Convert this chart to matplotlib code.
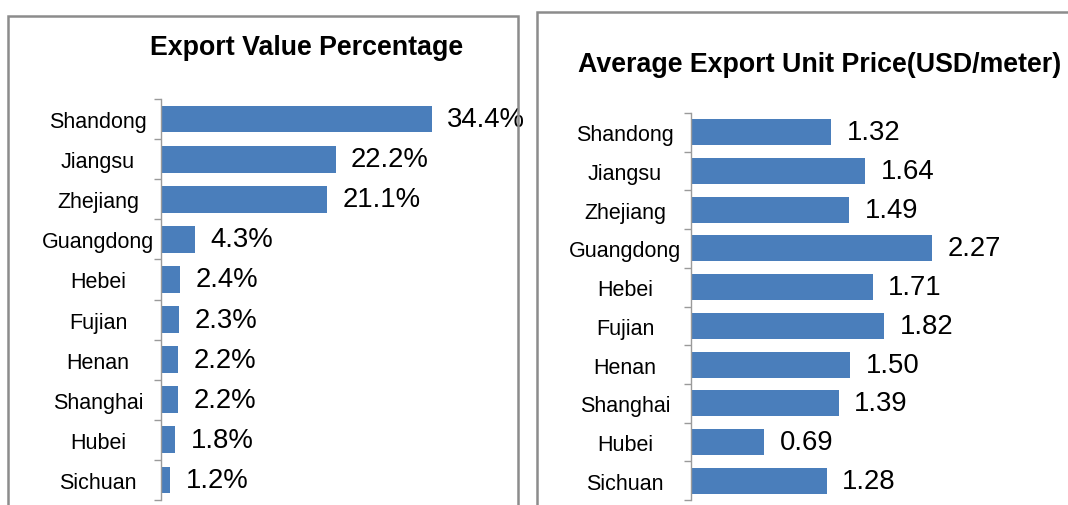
import matplotlib.pyplot as plt
from matplotlib.patches import Rectangle

provinces = ['Shandong', 'Jiangsu', 'Zhejiang', 'Guangdong', 'Hebei',
             'Fujian', 'Henan', 'Shanghai', 'Hubei', 'Sichuan']
value_share = [34.4, 22.2, 21.1, 4.3, 2.4, 2.3, 2.2, 2.2, 1.8, 1.2]
unit_price = [1.32, 1.64, 1.49, 2.27, 1.71, 1.82, 1.50, 1.39, 0.69, 1.28]

plt.rcParams['font.family'] = ['Liberation Sans', 'DejaVu Sans']
bar_color = '#4a7ebb'
W, H = 1068, 506

fig = plt.figure(figsize=(W / 100, H / 100), dpi=100)

# panel frames
fig.patches.append(Rectangle((8 / W, -0.05), 510 / W, 1.05 - 17 / H, transform=fig.transFigure,
                             fill=False, edgecolor='#8c8c8c', linewidth=1.8))
fig.patches.append(Rectangle((537 / W, -0.05), 0.6, 1.05 - 13 / H, transform=fig.transFigure,
                             fill=False, edgecolor='#8c8c8c', linewidth=1.8))


def draw(ax, values, labels, xmax, pad_px, bar_h):
    ypos = list(range(len(provinces)))
    ax.barh(ypos, values, height=bar_h, color=bar_color)
    ax.set_xlim(0, xmax)
    ax.set_ylim(len(provinces) - 0.5, -0.5)
    for s in ['top', 'right', 'bottom']:
        ax.spines[s].set_visible(False)
    ax.spines['left'].set_color('#9a9a9a')
    ax.spines['left'].set_linewidth(1.0)
    ax.set_xticks([])
    ax.set_yticks(ypos)
    ax.set_yticklabels(provinces, fontsize=15.5)
    ax.tick_params(axis='y', which='major', length=0, pad=pad_px * 0.72)
    for t in ax.get_yticklabels():
        t.set_horizontalalignment('center')
    ax.set_yticks([i - 0.5 for i in range(len(provinces) + 1)], minor=True)
    ax.tick_params(axis='y', which='minor', length=5, color='#9a9a9a', width=1.0)
    for i, (v, lab) in enumerate(zip(values, labels)):
        ax.annotate(lab, (v, i), xytext=(11, 0), textcoords='offset points',
                    va='center', ha='left', fontsize=19.8)


# left: export value percentage
ax1 = fig.add_axes([161 / W, 5 / H, 354 / W, 401 / H])
draw(ax1, value_share, [f'{v:.1f}%' for v in value_share], 45, 63, 0.67)
fig.text(307 / W, 1 - 48 / H, 'Export Value Percentage', ha='center', va='center',
         fontsize=19.3, fontweight='bold')

# right: average export unit price
ax2 = fig.add_axes([691 / W, 5 / H, 361 / W, 387 / H])
draw(ax2, unit_price, [f'{v:.2f}' for v in unit_price], 3.4, 66, 0.67)
fig.text(820 / W, 1 - 65 / H, 'Average Export Unit Price(USD/meter)', ha='center', va='center',
         fontsize=19.3, fontweight='bold')

fig.savefig('out.png', dpi=100)
